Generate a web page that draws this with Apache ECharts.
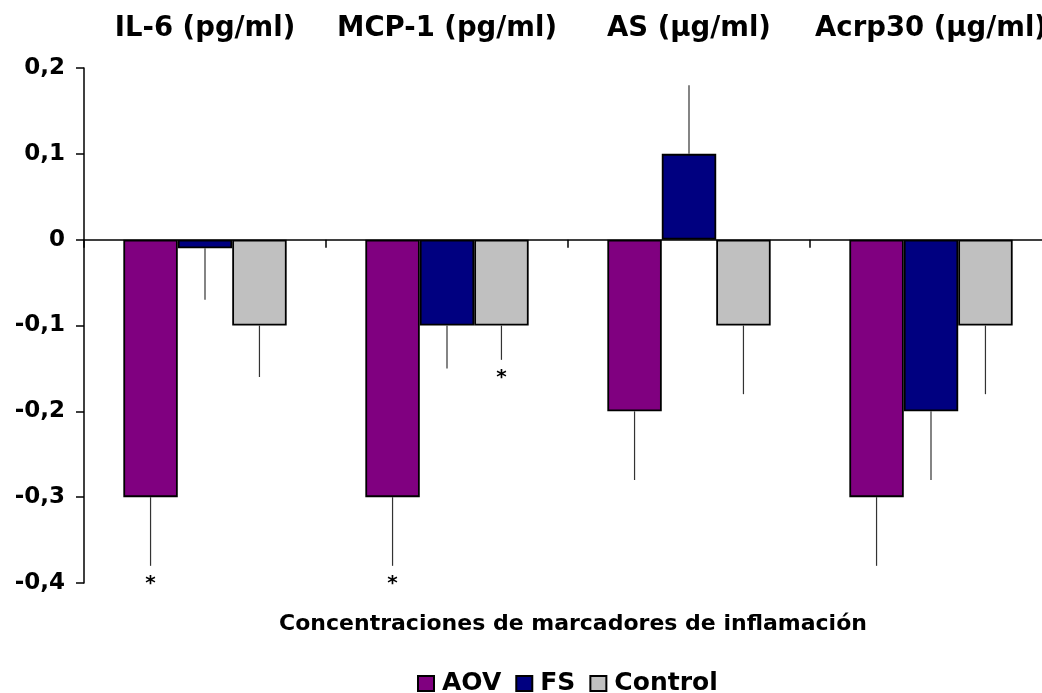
<!DOCTYPE html>
<html>
<head>
<meta charset="utf-8">
<script src="https://cdn.jsdelivr.net/npm/echarts@6/dist/echarts.min.js"></script>
<style>
html,body{margin:0;padding:0;background:#fff;overflow:hidden;width:1042px;height:693px;}
#chart{width:1056px;height:693px;}
</style>
</head>
<body>
<div id="chart"></div>
<script>
const categories = ['IL-6 (pg/ml)', 'MCP-1 (pg/ml)', 'AS (µg/ml)', 'Acrp30 (µg/ml)'];
const seriesNames = ['AOV', 'FS', 'Control'];
const aov = [-0.3, -0.3, -0.2, -0.3];
const fs = [-0.01, -0.1, 0.1, -0.2];
const control = [-0.1, -0.1, -0.1, -0.1];
const aovErr = [0.08, 0.08, 0.08, 0.08];
const fsErr = [0.06, 0.05, 0.08, 0.08];
const controlErr = [0.06, 0.04, 0.08, 0.08];
const aovSig = [1, 1, 0, 0];
const fsSig = [0, 0, 0, 0];
const controlSig = [0, 1, 0, 0];
const yTicks = [-0.4, -0.3, -0.2, -0.1, 0, 0.1, 0.2];

const FONT = 'DejaVu Sans';
const colors = ['#800080', '#000080', '#C0C0C0'];
const BAR_FRAC = 0.225;

const values = [aov, fs, control];
const errs = [aovErr, fsErr, controlErr];
const sigs = [aovSig, fsSig, controlSig];

const barSeries = values.map((vals, k) => ({
  name: seriesNames[k],
  type: 'bar',
  xAxisIndex: 0,
  data: vals,
  barWidth: (BAR_FRAC * 100) + '%',
  barGap: '0%',
  itemStyle: { color: colors[k], borderColor: '#000', borderWidth: 1.8 },
  emphasis: { disabled: true },
  z: 2
}));

const errSeries = values.map((vals, k) => ({
  name: seriesNames[k] + ' err',
  type: 'custom',
  xAxisIndex: 0,
  data: vals.map((v, i) => [i, v, errs[k][i], sigs[k][i]]),
  renderItem: function (params, api) {
    const cat = api.value(0), v = api.value(1), e = api.value(2), sig = api.value(3);
    const band = api.size([1, 0])[0];
    const bw = band * BAR_FRAC;
    const x = api.coord([cat, 0])[0] + (k - 1) * bw;
    const end = v >= 0 ? v + e : v - e;
    const y1 = api.coord([cat, v])[1];
    const y2 = api.coord([cat, end])[1];
    const children = [{
      type: 'line',
      shape: { x1: x, y1: y1, x2: x, y2: y2 },
      style: { stroke: '#333', lineWidth: 1.2 }
    }];
    if (sig) {
      children.push({
        type: 'text',
        style: {
          x: x, y: y2 + 8, text: '*', fill: '#000',
          font: 'bold 20px "' + FONT + '"', align: 'center', verticalAlign: 'top'
        }
      });
    }
    return { type: 'group', children: children };
  },
  silent: true,
  z: 3
}));

const option = {
  animation: false,
  backgroundColor: '#fff',
  textStyle: { fontFamily: FONT },
  title: {
    text: 'Concentraciones de marcadores de inflamación',
    left: 568, top: 608, textAlign: 'center',
    textStyle: { fontFamily: FONT, fontWeight: 'bold', fontSize: 22, color: '#000' }
  },
  legend: {
    data: seriesNames,
    left: 417, top: 671, padding: 0,
    itemWidth: 16, itemHeight: 15, itemGap: 14,
    icon: 'rect',
    textStyle: { fontFamily: FONT, fontWeight: 'bold', fontSize: 25, color: '#000', padding: [0, 0, 0, 3] }
  },
  grid: { left: 84, top: 68, width: 968, height: 515, containLabel: false },
  xAxis: [{
    type: 'category',
    data: categories,
    position: 'bottom',
    axisLine: { onZero: true, lineStyle: { color: '#000', width: 1.5 } },
    axisTick: { show: true, length: 8, alignWithLabel: false, lineStyle: { color: '#000', width: 1.5 } },
    axisLabel: { show: false },
    splitLine: { show: false }
  }, {
    type: 'category',
    data: categories,
    position: 'top',
    axisLine: { show: false },
    axisTick: { show: false },
    axisLabel: { show: true, interval: 0, margin: 25, fontFamily: FONT, fontWeight: 'bold', fontSize: 27.5, color: '#000' },
    splitLine: { show: false }
  }],
  yAxis: {
    type: 'value',
    min: -0.4, max: 0.2, interval: 0.1,
    axisLine: { show: true, lineStyle: { color: '#000', width: 1.5 } },
    axisTick: { show: true, length: 8, lineStyle: { color: '#000', width: 1.5 } },
    axisLabel: {
      margin: 19, fontFamily: FONT, fontWeight: 'bold', fontSize: 23, color: '#000',
      formatter: function (v) {
        const r = yTicks.reduce((a, b) => Math.abs(b - v) < Math.abs(a - v) ? b : a);
        return String(r).replace('.', ',');
      }
    },
    splitLine: { show: false }
  },
  series: barSeries.concat(errSeries)
};

const chart = echarts.init(document.getElementById('chart'), null, { renderer: 'canvas' });
chart.setOption(option);
</script>
</body>
</html>
